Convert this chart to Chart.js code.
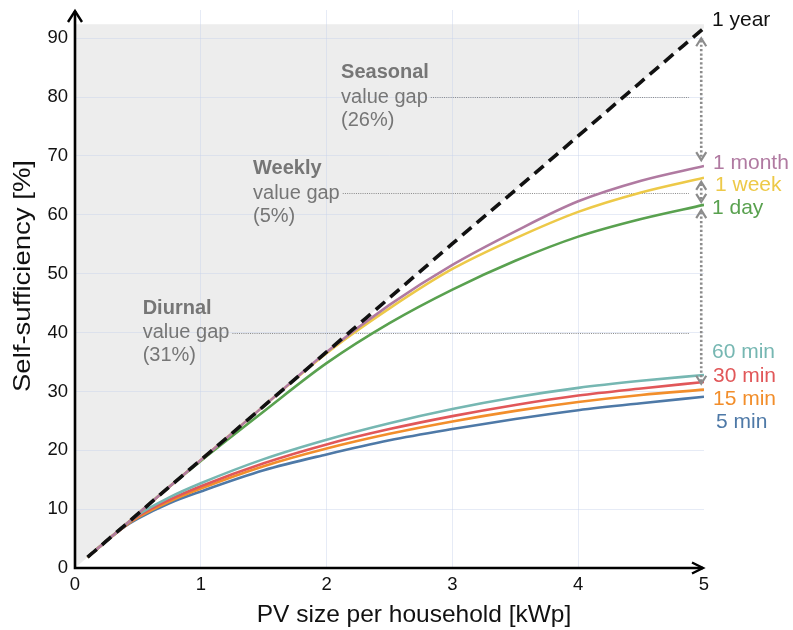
<!DOCTYPE html>
<html><head><meta charset="utf-8">
<script src="https://cdn.jsdelivr.net/npm/chart.js@4.4.0/dist/chart.umd.min.js"></script>
<style>html,body{margin:0;padding:0;background:#fff}</style>
</head><body>
<canvas id="c" width="793" height="630"></canvas>
<script>
// ---------- data ----------
const pvSize   = [0.1, 0.25, 0.4, 0.5, 0.75, 1, 1.5, 2, 2.5, 3, 3.5, 4, 4.5, 5];
const year1    = [1.84, 4.6, 7.34, 9.2, 13.8, 18.35, 27.5, 36.7, 45.9, 55.1, 64.2, 73.4, 82.6, 91.75];
const month1   = [1.84, 4.6, 7.34, 9.2, 13.8, 18.35, 27.5, 36.7, 44.7, 51.5, 57.2, 62.3, 65.8, 68.3];
const week1    = [1.84, 4.6, 7.34, 9.2, 13.8, 18.35, 27.5, 36.5, 44.1, 50.8, 56.0, 60.5, 63.8, 66.3];
const day1     = [1.84, 4.6, 7.34, 9.2, 13.8, 18.2, 26.6, 34.8, 41.6, 47.3, 52.2, 56.3, 59.3, 61.7];
const min60    = [1.84, 4.6, 7.25, 9.0, 12.0, 14.4, 18.5, 21.8, 24.6, 27.0, 29.0, 30.6, 31.8, 32.8];
const min30    = [1.84, 4.6, 7.2, 8.8, 11.6, 13.9, 17.8, 21.0, 23.6, 25.8, 27.7, 29.3, 30.5, 31.6];
const min15    = [1.84, 4.6, 7.15, 8.6, 11.3, 13.5, 17.3, 20.3, 22.8, 24.9, 26.7, 28.2, 29.4, 30.3];
const min5     = [1.84, 4.6, 7.1, 8.4, 11.0, 13.0, 16.6, 19.3, 21.7, 23.6, 25.3, 26.8, 28.0, 29.1];
const seriesNames  = ['1 year', '1 month', '1 week', '1 day', '60 min', '30 min', '15 min', '5 min'];
const seriesValues = [year1, month1, week1, day1, min60, min30, min15, min5];
const seriesColors = ['#111111', '#b07aa1', '#edc948', '#59a14f', '#76b7b2', '#e15759', '#f28e2b', '#4e79a7'];
const xTicks = [0, 1, 2, 3, 4, 5];
const yTicks = [0, 10, 20, 30, 40, 50, 60, 70, 80, 90];
const xTitle = 'PV size per household [kWp]';
const yTitle = 'Self-sufficiency [%]';
// value-gap annotations
const gapNames  = ['Seasonal', 'Weekly', 'Diurnal'];
const gapShares = ['(26%)', '(5%)', '(31%)'];
const gapLevels = [80, 63.7, 40];
// gap bracket (double arrows) ranges at x = 5
const gapRanges = [[90, 69.3], [65.6, 62.2], [60.8, 31.3]];
// gray area: above the 1-year line
const shadeX = [0, 5, 5, 0];
const shadeY = [0, 91.75, 92.4, 92.4];

// ---------- layout config (not data) ----------
const FONT = '"Liberation Sans", Arial, sans-serif';
const labelAnchors = [93.1, 68.75, 65.07, 61.1, 36.58, 32.5, 28.7, 24.7];
const labelDx      = [8, 9, 11, 8, 8, 9, 9, 12];
const gapTextX     = [2.115, 1.415, 0.538];
const gapLineEnd   = 4.88;
const bracketX     = 4.978;

const datasets = seriesNames.map((name, i) => ({
  label: name,
  data: pvSize.map((x, j) => ({x: x, y: seriesValues[i][j]})),
  borderColor: seriesColors[i],
  borderWidth: i === 0 ? 3.6 : 2.6,
  borderDash: i === 0 ? [12, 7] : [],
  pointRadius: 0,
  fill: false,
  cubicInterpolationMode: 'monotone',
  borderCapStyle: 'butt'
}));

function chevron(ctx, x, y, dir, w, h) {
  ctx.beginPath();
  if (dir === 'right') {
    ctx.moveTo(x - h, y - w); ctx.lineTo(x, y); ctx.lineTo(x - h, y + w);
  } else {
    ctx.moveTo(x - w, y - dir * h); ctx.lineTo(x, y); ctx.lineTo(x + w, y - dir * h);
  }
  ctx.stroke();
}

const deco = {
  id: 'deco',
  beforeDraw(chart) {
    const {ctx, scales: {x, y}} = chart;
    ctx.save();
    ctx.fillStyle = '#ededed';
    ctx.beginPath();
    shadeX.forEach((v, i) => {
      const px = x.getPixelForValue(v), py = y.getPixelForValue(shadeY[i]);
      if (i === 0) ctx.moveTo(px, py); else ctx.lineTo(px, py);
    });
    ctx.closePath();
    ctx.fill();
    ctx.restore();
  },
  beforeDatasetsDraw(chart) {
    const {ctx, scales: {x, y}} = chart;
    ctx.save();
    ctx.textBaseline = 'middle';
    ctx.textAlign = 'left';
    gapNames.forEach((name, i) => {
      const tx = x.getPixelForValue(gapTextX[i]);
      const ly = y.getPixelForValue(gapLevels[i]);
      ctx.fillStyle = '#767676';
      ctx.font = 'bold 20px ' + FONT;
      ctx.fillText(name, tx, ly - 24.5);
      ctx.font = '20px ' + FONT;
      ctx.fillText('value gap', tx, ly);
      ctx.fillText(gapShares[i], tx, ly + 23);
      const w = ctx.measureText('value gap').width;
      ctx.strokeStyle = '#8a8a8a';
      ctx.lineWidth = 1.2;
      ctx.setLineDash([1, 1.2]);
      ctx.beginPath();
      ctx.moveTo(tx + w + 3, Math.round(ly) + 0.5);
      ctx.lineTo(x.getPixelForValue(gapLineEnd), Math.round(ly) + 0.5);
      ctx.stroke();
    });
    ctx.restore();
  },
  afterDraw(chart) {
    const {ctx, chartArea, scales: {x, y}} = chart;
    ctx.save();
    // axes
    ctx.strokeStyle = '#000';
    ctx.lineWidth = 2.6;
    ctx.setLineDash([]);
    const x0 = x.getPixelForValue(0), y0 = y.getPixelForValue(0);
    ctx.beginPath();
    ctx.moveTo(x0, y0); ctx.lineTo(x0, chartArea.top + 1);
    ctx.moveTo(x0 - 1.3, y0); ctx.lineTo(chartArea.right - 1, y0);
    ctx.stroke();
    ctx.lineWidth = 2.4;
    chevron(ctx, x0, chartArea.top + 1, -1, 7, 11);
    chevron(ctx, chartArea.right - 1, y0, 'right', 5.5, 11);
    // gap brackets
    const bx = x.getPixelForValue(bracketX);
    ctx.strokeStyle = '#8c8c8c';
    gapRanges.forEach(r => {
      const t = y.getPixelForValue(r[0]), b = y.getPixelForValue(r[1]);
      ctx.lineWidth = 2.6;
      ctx.setLineDash([2.2, 2.2]);
      ctx.beginPath(); ctx.moveTo(bx, t + 2); ctx.lineTo(bx, b - 2); ctx.stroke();
      ctx.setLineDash([]);
      ctx.lineWidth = 2.2;
      chevron(ctx, bx, t, -1, 5, 8);
      chevron(ctx, bx, b, 1, 5, 8);
    });
    // series labels
    ctx.font = '21px ' + FONT;
    ctx.textAlign = 'left';
    ctx.textBaseline = 'middle';
    seriesNames.forEach((n, i) => {
      ctx.fillStyle = seriesColors[i];
      ctx.fillText(n, chartArea.right + labelDx[i], y.getPixelForValue(labelAnchors[i]));
    });
    // axis titles
    ctx.fillStyle = '#111';
    ctx.font = '24.5px ' + FONT;
    ctx.textAlign = 'center';
    ctx.textBaseline = 'alphabetic';
    ctx.fillText(xTitle, 414, 622);
    ctx.save();
    ctx.translate(29.5, 276);
    ctx.rotate(-Math.PI / 2);
    const tw = ctx.measureText(yTitle).width;
    ctx.scale(232 / tw, 1);
    ctx.fillText(yTitle, 0, 0);
    ctx.restore();
    ctx.restore();
  }
};

const gridColor = ctx => (ctx.tick && (ctx.tick.value === 0 || ctx.tick.value === 5)) ? 'rgba(0,0,0,0)' : 'rgba(200,210,235,0.45)';

new Chart(document.getElementById('c'), {
  type: 'line',
  data: {datasets: datasets},
  plugins: [deco],
  options: {
    responsive: false,
    animation: false,
    devicePixelRatio: 1,
    layout: {padding: {left: 0, right: 89, top: 10, bottom: 0}},
    plugins: {legend: {display: false}, tooltip: {enabled: false}},
    scales: {
      x: {
        type: 'linear', min: 0, max: 5,
        afterFit: s => { s.height = 62; s.paddingLeft = 0; s.paddingRight = 0; },
        afterBuildTicks: s => { s.ticks = xTicks.map(v => ({value: v})); },
        ticks: {stepSize: 1, color: '#111', font: {family: FONT, size: 18.5}, padding: 6, maxRotation: 0},
        grid: {color: gridColor, drawTicks: false, lineWidth: 1},
        border: {display: false}
      },
      y: {
        type: 'linear', min: 0, max: 94.8,
        afterFit: s => { s.width = 75; s.paddingTop = 0; s.paddingBottom = 0; },
        afterBuildTicks: s => { s.ticks = yTicks.map(v => ({value: v})); },
        ticks: {stepSize: 10, includeBounds: false, color: '#111', font: {family: FONT, size: 18.5}, padding: 7},
        grid: {color: gridColor, drawTicks: false, lineWidth: 1},
        border: {display: false}
      }
    }
  }
});
</script>
</body></html>
